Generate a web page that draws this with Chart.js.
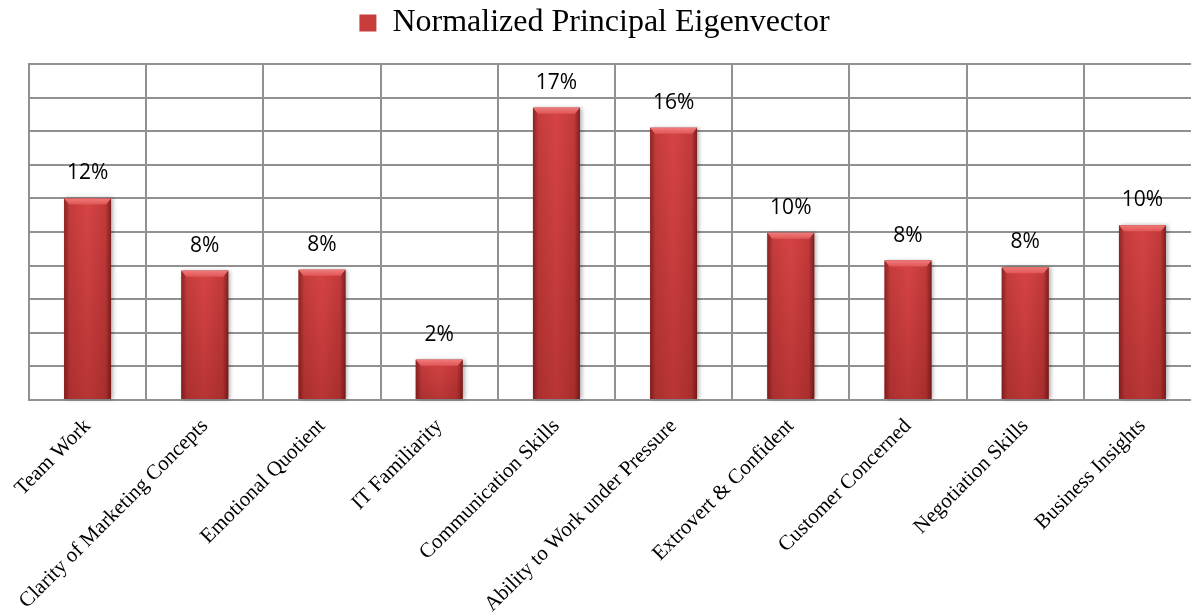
<!DOCTYPE html>
<html>
<head>
<meta charset="utf-8">
<script src="https://cdn.jsdelivr.net/npm/chart.js@4/dist/chart.umd.min.js"></script>
<style>
    body { margin: 0; background: #fff; overflow: hidden; }
    #wrap { width: 1215px; height: 613px; }
</style>
</head>
<body>
<div id="wrap"><canvas id="myChart" width="1215" height="613"></canvas></div>
<script>
// chart data
var categories = ['Team Work', 'Clarity of Marketing Concepts', 'Emotional Quotient', 'IT Familiarity',
    'Communication Skills', 'Ability to Work under Pressure', 'Extrovert & Confident',
    'Customer Concerned', 'Negotiation Skills', 'Business Insights'];
var eigenValues = [12.0, 7.7, 7.75, 2.4, 17.4, 16.2, 9.95, 8.3, 7.9, 10.4];
var seriesName = 'Normalized Principal Eigenvector';
var yTicks = [0, 20, 2]; // min, max, step (no labels shown)

// bevelled bar look, drawn over the library's own bar elements
var bevelBars = {
    id: 'bevelBars',
    afterDatasetsDraw: function (chart) {
        var ctx = chart.ctx;
        chart.getDatasetMeta(0).data.forEach(function (bar) {
            var l = bar.x - bar.width / 2, r = bar.x + bar.width / 2;
            var t = bar.y, b = bar.base, w = r - l, e = 5;
            ctx.save();
            ctx.shadowColor = 'rgba(0,0,0,0.3)';
            ctx.shadowBlur = 4;
            ctx.shadowOffsetX = 2;
            var g = ctx.createLinearGradient(l, 0, r, 0);
            g.addColorStop(0, '#8a2424');
            g.addColorStop(0.12, '#c53c3c');
            g.addColorStop(0.5, '#d64444');
            g.addColorStop(0.88, '#c23a3a');
            g.addColorStop(1, '#7e2020');
            ctx.fillStyle = g;
            ctx.fillRect(l, t, w, b - t);
            ctx.restore();

            var v = ctx.createLinearGradient(0, t, 0, b);
            v.addColorStop(0, 'rgba(80,0,0,0)');
            v.addColorStop(1, 'rgba(80,0,0,0.22)');
            ctx.fillStyle = v;
            ctx.fillRect(l, t, w, b - t);

            // top bevel
            ctx.beginPath();
            ctx.moveTo(l, t);
            ctx.lineTo(r, t);
            ctx.lineTo(r - e, t + e + 1);
            ctx.lineTo(l + e, t + e + 1);
            ctx.closePath();
            var tg = ctx.createLinearGradient(0, t, 0, t + e + 1);
            tg.addColorStop(0, '#f07a7a');
            tg.addColorStop(1, '#e05656');
            ctx.fillStyle = tg;
            ctx.fill();
        });
    }
};

// percentage labels above bars
var valueLabels = {
    id: 'valueLabels',
    afterDatasetsDraw: function (chart) {
        var ctx = chart.ctx;
        ctx.save();
        ctx.font = '21px "Open Sans"';
        ctx.fillStyle = '#000';
        ctx.textAlign = 'center';
        ctx.textBaseline = 'alphabetic';
        chart.getDatasetMeta(0).data.forEach(function (bar, i) {
            ctx.fillText(Math.round(eigenValues[i]) + '%', bar.x, bar.y - 19);
        });
        ctx.restore();
    }
};

document.addEventListener('DOMContentLoaded', function () {
    var ctx = document.getElementById('myChart').getContext('2d');
    var gridColor = '#919191';
    var serif = '"Liberation Serif", "Times New Roman", serif';

    new Chart(ctx, {
        type: 'bar',
        data: {
            labels: categories,
            datasets: [{
                label: seriesName,
                data: eigenValues,
                backgroundColor: '#c93c3c',
                borderWidth: 0,
                barPercentage: 0.4,
                categoryPercentage: 1.0
            }]
        },
        options: {
            responsive: false,
            animation: false,
            layout: { padding: { top: 0, right: 14, left: -12, bottom: 0 } },
            plugins: {
                legend: {
                    position: 'top',
                    weight: 3000,
                    labels: {
                        boxWidth: 17,
                        boxHeight: 17,
                        color: '#000',
                        padding: 7,
                        font: { family: serif, size: 32 }
                    }
                },
                // empty spacer between legend and plot
                title: {
                    display: true,
                    text: '',
                    font: { size: 1, lineHeight: 1 },
                    padding: { top: 0, bottom: 14 }
                },
                tooltip: { enabled: false }
            },
            scales: {
                x: {
                    grid: { color: gridColor, lineWidth: 2, drawTicks: false, offset: true },
                    border: { color: gridColor, width: 2 },
                    ticks: {
                        color: '#000',
                        padding: 14,
                        maxRotation: 45,
                        minRotation: 45,
                        autoSkip: false,
                        font: { family: serif, size: 21 }
                    },
                    afterFit: function (scale) { scale.height = 213; }
                },
                y: {
                    min: yTicks[0],
                    max: yTicks[1],
                    ticks: { stepSize: yTicks[2], display: false },
                    grid: { color: gridColor, lineWidth: 2, drawTicks: false },
                    border: { color: gridColor, width: 2 },
                    afterFit: function (scale) { scale.width = 41; }
                }
            }
        },
        plugins: [bevelBars, valueLabels]
    });
});
</script>
</body>
</html>
